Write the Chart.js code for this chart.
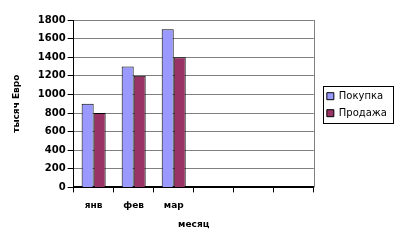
<!DOCTYPE html>
<html lang="ru">
<head>
<meta charset="UTF-8">
<title>Покупка / Продажа</title>
<script src="https://cdn.jsdelivr.net/npm/chart.js@4.4.0/dist/chart.umd.min.js"></script>
<style>
  body { margin: 0; background: #fff; }
  #wrap { width: 400px; height: 240px; }
</style>
</head>
<body>
<div id="wrap"><canvas id="chart"></canvas></div>
<script>
// data
const months = ['янв', 'фев', 'мар', '', '', ''];
const purchase = [900, 1300, 1700];
const sales = [800, 1200, 1400];
const yMin = 0, yMax = 1800, yStep = 200;

const FONT = 'DejaVu Sans';
const LEG_DX = 6, LEG_DY = 1;   // nudge legend away from the plot

// grey frame on the right of the plot and a box round the legend items
const framePlugin = {
  id: 'frame',
  afterUpdate(chart) {
    const lg = chart.legend;
    lg.left += LEG_DX; lg.right += LEG_DX;
    lg.top += LEG_DY; lg.bottom += LEG_DY;
    (lg.legendHitBoxes || []).forEach(b => { b.left += LEG_DX; b.top += LEG_DY; });
  },
  afterDraw(chart) {
    const ctx = chart.ctx;
    const a = chart.chartArea;
    ctx.save();
    ctx.strokeStyle = '#808080';
    ctx.lineWidth = 1;
    ctx.beginPath();
    ctx.moveTo(Math.round(a.right) + 0.5, a.top);
    ctx.lineTo(Math.round(a.right) + 0.5, a.bottom);
    ctx.stroke();
    const boxes = chart.legend.legendHitBoxes;
    if (boxes && boxes.length) {
      const l = Math.min(...boxes.map(b => b.left)) - 4;
      const r = Math.max(...boxes.map(b => b.left + b.width)) + 6;
      const t = Math.min(...boxes.map(b => b.top)) - 5;
      const btm = Math.max(...boxes.map(b => b.top + b.height)) + 5;
      ctx.strokeStyle = '#000';
      ctx.strokeRect(Math.round(l) + 0.5, Math.round(t) + 0.5, Math.round(r - l), Math.round(btm - t));
    }
    ctx.restore();
  }
};

new Chart(document.getElementById('chart'), {
  type: 'bar',
  data: {
    labels: months,
    datasets: [
      { label: 'Покупка', data: purchase, backgroundColor: '#9999FF',
        borderColor: '#000', borderWidth: 1 },
      { label: 'Продажа', data: sales, backgroundColor: '#993366',
        borderColor: '#000', borderWidth: 1 }
    ]
  },
  options: {
    responsive: true,
    maintainAspectRatio: false,
    animation: false,
    layout: { padding: { top: 20, right: 9, left: 7, bottom: 6 } },
    plugins: {
      tooltip: { enabled: false },
      legend: {
        position: 'right',
        fullSize: false,
        labels: {
          boxWidth: 7, boxHeight: 7, padding: 7, color: '#000',
          font: { family: FONT, size: 10 }
        }
      }
    },
    datasets: { bar: { categoryPercentage: 0.6, barPercentage: 1.0 } },
    scales: {
      x: {
        grid: { display: true, drawOnChartArea: false, drawTicks: true,
                tickLength: 5, tickColor: '#000', offset: true },
        border: { display: true, color: '#000', width: 2 },
        ticks: { color: '#000', padding: 8, font: { family: FONT, size: 9, weight: 'bold' } },
        title: { display: true, text: 'месяц', color: '#000', padding: { top: 0 },
                 font: { family: FONT, size: 9, weight: 'bold' } }
      },
      y: {
        min: yMin, max: yMax,
        grid: { color: '#808080', tickLength: 6, tickColor: '#000' },
        border: { display: true, color: '#000', width: 1 },
        ticks: { stepSize: yStep, color: '#000', padding: 2,
                 callback: v => String(v),
                 font: { family: FONT, size: 10, weight: 'bold' } },
        title: { display: true, text: 'тысяч Евро', color: '#000', padding: { bottom: 14 },
                 font: { family: FONT, size: 9, weight: 'bold' } }
      }
    }
  },
  plugins: [framePlugin]
});
</script>
</body>
</html>
